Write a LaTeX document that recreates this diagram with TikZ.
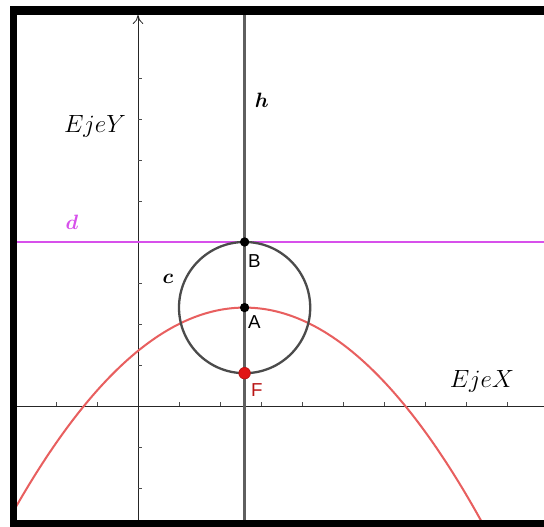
\documentclass[tikz,border=0pt]{standalone}
\usepackage{fontspec}
\usepackage{bm}
\usepackage{tikz}
\usetikzlibrary{arrows.meta}
\newfontfamily\ptfont{Liberation Sans}
\definecolor{hline}{RGB}{95,95,95}
\definecolor{circline}{RGB}{75,75,75}
\definecolor{dline}{RGB}{215,80,235}
\definecolor{parab}{RGB}{232,95,95}
\definecolor{focus}{RGB}{225,20,20}
\definecolor{focustxt}{RGB}{185,20,20}
\tikzset{
  axis/.style={line width=0.6pt, black!85},
  tick/.style={line width=0.4pt, black!70},
  pt/.style={circle, fill=black, inner sep=0pt, minimum size=6.5pt},
  ptred/.style={pt, fill=focus, draw=focustxt, line width=0.5pt, minimum size=8pt},
  ptlbl/.style={font=\ptfont\fontsize{13}{13}\selectfont, inner sep=0pt},
  objlbl/.style={font=\fontsize{15}{15}\selectfont, inner sep=0pt},
  axlbl/.style={font=\fontsize{16}{16}\selectfont, inner sep=0pt},
}
\begin{document}
\begin{tikzpicture}[x=1cm, y=1cm]
  \useasboundingbox (-3.366,-2.951) rectangle (9.902,9.902);
  % frame
  \fill[black] (-3.122,-2.951) rectangle (9.902,9.756);
  \fill[white] (-2.951,-2.780) rectangle (9.902,9.537);
  \begin{scope}
    \clip (-2.951,-2.780) rectangle (9.902,9.537);
    % axes
    \coordinate (xl) at (-2.951,0);
    \coordinate (xr) at (9.902,0);
    \coordinate (yb) at (0,-2.780);
    \coordinate (yt) at (0,9.537);
    \draw[axis] (xl) -- (xr);
    \draw[axis, -{To[length=2.2mm, width=2.6mm]}] (yb) -- (yt);
    \foreach \i in {-2,-1,1,2,...,9}
      \draw[tick] (\i,0) -- (\i,0.09);
    \foreach \j in {-2,-1,1,2,...,8}
      \draw[tick] (0,\j) -- (0.09,\j);
    % directrix d
    \coordinate (dl) at (-2.951,4);
    \coordinate (dr) at (9.902,4);
    \draw[line width=1.6pt, dline] (dl) -- (dr);
    % parabola
    \draw[line width=1.4pt, parab, domain=-3.2:10, samples=120, smooth]
      plot (\x, {2.4-(\x-2.6)*(\x-2.6)/6.4});
    % circle c
    \coordinate (Ac) at (2.6,2.4);
    \draw[line width=1.6pt, circline] (Ac) circle (1.6);
    % line h
    \coordinate (hb) at (2.6,-2.780);
    \coordinate (ht) at (2.6,9.537);
    \draw[line width=2pt, hline] (hb) -- (ht);
  \end{scope}
  % points
  \node[pt] (B) at (2.6,4) {};
  \node[pt] (A) at (2.6,2.4) {};
  \node[ptred] (F) at (2.6,0.8) {};
  % labels
  \node[ptlbl] (Blbl) at (2.84,3.53) {B};
  \node[ptlbl] (Albl) at (2.84,2.04) {A};
  \node[ptlbl, text=focustxt] (Flbl) at (2.90,0.39) {F};
  \node[objlbl] (hlbl) at (3.02,7.46) {$\bm{h}$};
  \node[objlbl, text=dline] (dlbl) at (-1.61,4.49) {$\bm{d}$};
  \node[objlbl] (clbl) at (0.73,3.10) {$\bm{c}$};
  \node[axlbl] (eyl) at (-1.05,6.83) {$EjeY$};
  \node[axlbl] (exl) at (8.39,0.61) {$EjeX$};
\end{tikzpicture}
\end{document}
